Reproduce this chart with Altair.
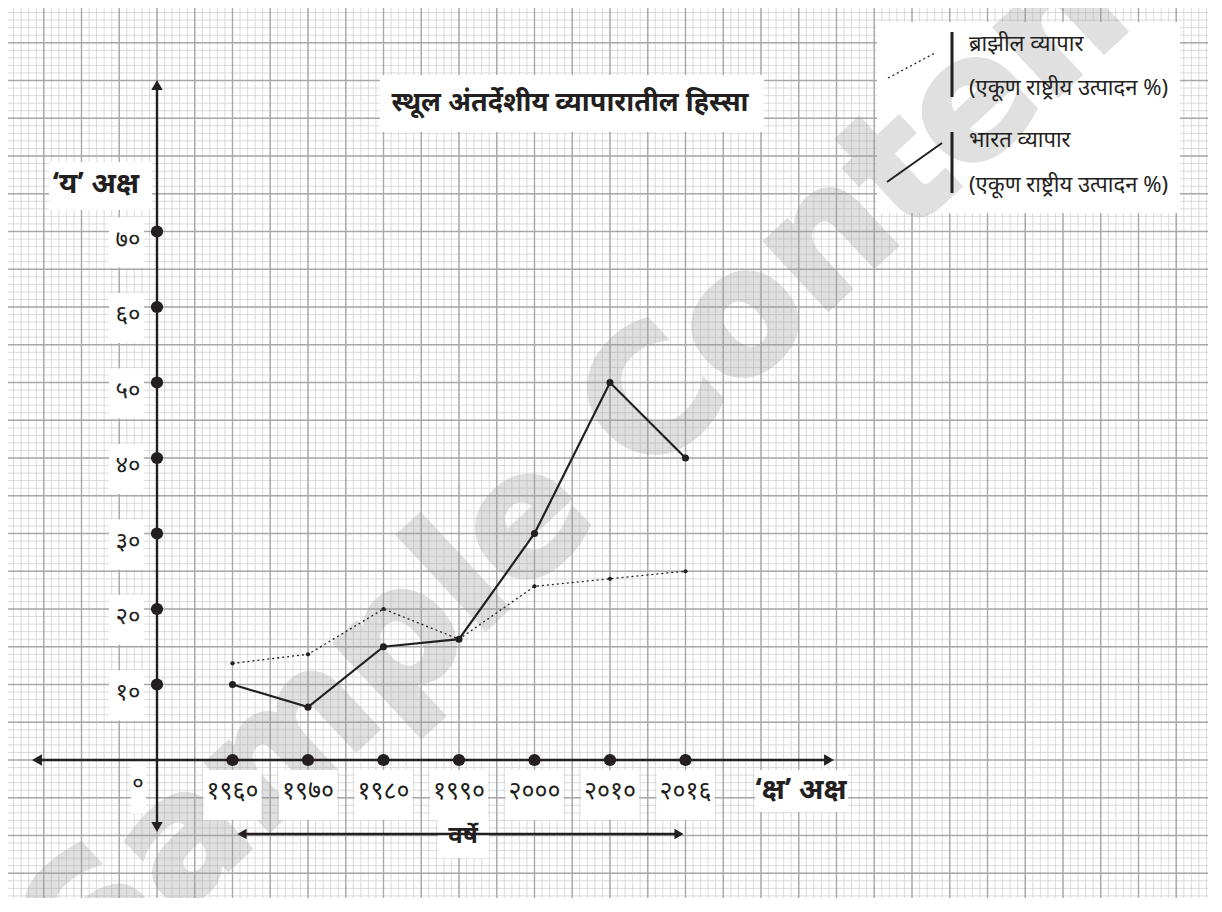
import altair as alt
import numpy as np
import pandas as pd

# ---------------- data ----------------
year_labels = ["१९६०", "१९७०", "१९८०", "१९९०", "२०००", "२०१०", "२०१६"]
slots = [1, 2, 3, 4, 5, 6, 7]
india = [10, 7, 15, 16, 30, 50, 40]
brazil = [12.8, 14, 20, 16, 23, 24, 25]
y_ticks = [10, 20, 30, 40, 50, 60, 70]
y_tick_labels = ["१०", "२०", "३०", "४०", "५०", "६०", "७०"]

title_text = "स्थूल अंतर्देशीय व्यापारातील हिस्सा"
y_axis_title = "‘य’ अक्ष"
x_axis_title = "‘क्ष’ अक्ष"
years_label = "वर्षे"
origin_label = "०"
legend_brazil = ["ब्राझील व्यापार", "(एकूण राष्ट्रीय उत्पादन %)"]
legend_india = ["भारत व्यापार", "(एकूण राष्ट्रीय उत्पादन %)"]
watermark = "Sample Content"

# ---------------- layout ----------------
W, H = 1200, 890
OX, OY, UX, UY = 157.0, 760.0, 75.5, 7.55
FONT = "Noto Sans, Lato, DejaVu Sans, sans-serif"
INK = "#231f20"


def X(px):
    return (px - OX) / UX


def Y(py):
    return (OY - py) / UY


xs = alt.Scale(domain=[X(8), X(8 + W)], nice=False, zero=False)
ys = alt.Scale(domain=[Y(8 + H), Y(8)], nice=False, zero=False)


def ex(f="x"):
    return alt.X(f"{f}:Q", scale=xs, axis=None)


def ey(f="y"):
    return alt.Y(f"{f}:Q", scale=ys, axis=None)


def rects(rows):
    df = pd.DataFrame(rows, columns=["x", "x2", "y", "y2"])
    return alt.Chart(df).mark_rect(color="white").encode(x=ex(), x2="x2:Q", y=ey(), y2="y2:Q")


layers = []

# graph paper grid
x_lo, x_hi = X(8), X(8 + W)
y_lo, y_hi = Y(8 + H), Y(8)
minor_x = [v for v in np.round(np.arange(-20, 142) * 0.1, 3) if x_lo <= v <= x_hi]
minor_y = [v for v in np.arange(-20, 101) if y_lo <= v <= y_hi]
major_x = [v for v in np.arange(-4, 30) * 0.5 if x_lo <= v <= x_hi]
major_y = [v for v in np.arange(-4, 21) * 5 if y_lo <= v <= y_hi]

layers.append(alt.Chart(pd.DataFrame({"x": minor_x})).mark_rule(color="#d2d2d2", strokeWidth=0.8).encode(x=ex()))
layers.append(alt.Chart(pd.DataFrame({"y": minor_y})).mark_rule(color="#d2d2d2", strokeWidth=0.8).encode(y=ey()))
layers.append(alt.Chart(pd.DataFrame({"x": major_x})).mark_rule(color="#a8a8a8", strokeWidth=1.4).encode(x=ex()))
layers.append(alt.Chart(pd.DataFrame({"y": major_y})).mark_rule(color="#a8a8a8", strokeWidth=1.4).encode(y=ey()))

# legend box (under the watermark)
layers.append(rects([(X(877), X(1180), Y(22), Y(213))]))

# watermark (semi-transparent, grid shows through)
layers.append(
    alt.Chart(pd.DataFrame({"x": [X(607)], "y": [Y(447)], "t": [watermark]}))
    .mark_text(angle=317, fontSize=168, font="DejaVu Sans", fontWeight="bold",
               color="#9c9c9c", stroke="#9c9c9c", strokeWidth=5, opacity=0.3,
               align="center", baseline="middle")
    .encode(x=ex(), y=ey(), text="t:N")
)

# white label boxes
boxes = []
for t in y_ticks:
    boxes.append((X(109), X(144), t + 14 / UY, t - 36 / UY))
for s in slots:
    boxes.append((s - 29 / UX, s + 29 / UX, Y(770), Y(820)))
boxes += [
    (X(131), X(146), Y(762), Y(813)),     # origin label
    (X(755), X(848), Y(770), Y(812)),     # x-axis title
    (X(49), X(152), Y(162), Y(210)),      # y-axis title
    (X(380), X(764), Y(75), Y(132)),      # title
    (X(438), X(489), Y(818), Y(858)),     # years label
]
layers.append(rects(boxes))

# axes with arrows
axdf = pd.DataFrame([
    (X(36), X(829), 0.0, 0.0),
    (0.0, 0.0, Y(84), Y(828)),
    (X(242), X(679), Y(834), Y(834)),
], columns=["x", "x2", "y", "y2"])
layers.append(alt.Chart(axdf).mark_rule(color=INK, strokeWidth=2.4).encode(x=ex(), x2="x2:Q", y=ey(), y2="y2:Q"))

arrows = pd.DataFrame([
    (X(829), 0.0, "triangle-right", 130),
    (X(37), 0.0, "triangle-left", 130),
    (0.0, Y(85), "triangle-up", 130),
    (0.0, Y(827), "triangle-down", 130),
    (X(679), Y(834), "triangle-right", 110),
    (X(242), Y(834), "triangle-left", 110),
], columns=["x", "y", "shape", "size"])
layers.append(
    alt.Chart(arrows).mark_point(filled=True, color=INK, opacity=1, strokeWidth=0)
    .encode(x=ex(), y=ey(), shape=alt.Shape("shape:N", scale=None), size=alt.Size("size:Q", scale=None))
)

# tick dots
tdf = pd.DataFrame({"x": [0.0] * len(y_ticks) + slots, "y": y_ticks + [0.0] * len(slots)})
layers.append(alt.Chart(tdf).mark_circle(color=INK, size=150, opacity=1).encode(x=ex(), y=ey()))

# data series
ddf = pd.DataFrame({"x": slots, "india": india, "brazil": brazil})
layers.append(alt.Chart(ddf).mark_line(color=INK, strokeWidth=1.3, strokeDash=[2, 3]).encode(x=ex(), y=ey("brazil")))
layers.append(alt.Chart(ddf).mark_circle(color=INK, size=18, opacity=1).encode(x=ex(), y=ey("brazil")))
layers.append(alt.Chart(ddf).mark_line(color=INK, strokeWidth=2.2).encode(x=ex(), y=ey("india")))
layers.append(alt.Chart(ddf).mark_circle(color=INK, size=50, opacity=1).encode(x=ex(), y=ey("india")))

# tick labels
ylab = pd.DataFrame({"x": [X(128)] * len(y_ticks), "y": [t - 8 / UY for t in y_ticks], "t": y_tick_labels})
layers.append(alt.Chart(ylab).mark_text(font=FONT, fontSize=24, color=INK, align="center", baseline="middle")
              .encode(x=ex(), y=ey(), text="t:N"))
xlab = pd.DataFrame({"x": slots, "y": [Y(791)] * len(slots), "t": year_labels})
layers.append(alt.Chart(xlab).mark_text(font=FONT, fontSize=25, color=INK, align="center", baseline="middle")
              .encode(x=ex(), y=ey(), text="t:N"))

# other texts
texts = pd.DataFrame([
    (X(138), Y(784), origin_label, 22, "normal", "center"),
    (X(801), Y(790), x_axis_title, 29, "bold", "center"),
    (X(96), Y(184), y_axis_title, 29, "bold", "center"),
    (X(570), Y(103), title_text, 27, "bold", "center"),
    (X(463), Y(836), years_label, 24, "bold", "center"),
], columns=["x", "y", "t", "fs", "fw", "al"])
for _, r in texts.iterrows():
    layers.append(
        alt.Chart(pd.DataFrame([r])).mark_text(font=FONT, fontSize=int(r.fs), fontWeight=r.fw, color=INK,
                                               align=r.al, baseline="middle")
        .encode(x=ex(), y=ey(), text="t:N")
    )

# legend
leg_lines = pd.DataFrame([(X(888), X(935), Y(78), Y(53))], columns=["x", "x2", "y", "y2"])
layers.append(alt.Chart(leg_lines).mark_rule(color=INK, strokeWidth=1.3, strokeDash=[2, 3])
              .encode(x=ex(), x2="x2:Q", y=ey(), y2="y2:Q"))
leg_solid = pd.DataFrame([(X(887), X(942), Y(182), Y(143))], columns=["x", "x2", "y", "y2"])
layers.append(alt.Chart(leg_solid).mark_rule(color=INK, strokeWidth=2)
              .encode(x=ex(), x2="x2:Q", y=ey(), y2="y2:Q"))
leg_bars = pd.DataFrame([(X(952), X(952), Y(32), Y(97)), (X(952), X(952), Y(132), Y(193))],
                        columns=["x", "x2", "y", "y2"])
layers.append(alt.Chart(leg_bars).mark_rule(color=INK, strokeWidth=3)
              .encode(x=ex(), x2="x2:Q", y=ey(), y2="y2:Q"))
leg_text = pd.DataFrame({
    "x": [X(969)] * 4,
    "y": [Y(44), Y(88), Y(140), Y(185)],
    "t": legend_brazil + legend_india,
})
layers.append(alt.Chart(leg_text).mark_text(font=FONT, fontSize=22, color=INK, align="left", baseline="middle")
              .encode(x=ex(), y=ey(), text="t:N"))

chart = (
    alt.layer(*layers)
    .properties(width=W, height=H, padding=0, autosize="none", background="white")
    .configure_view(stroke=None)
)

chart.save("out.html", embed_options={"renderer": "svg", "actions": False})
